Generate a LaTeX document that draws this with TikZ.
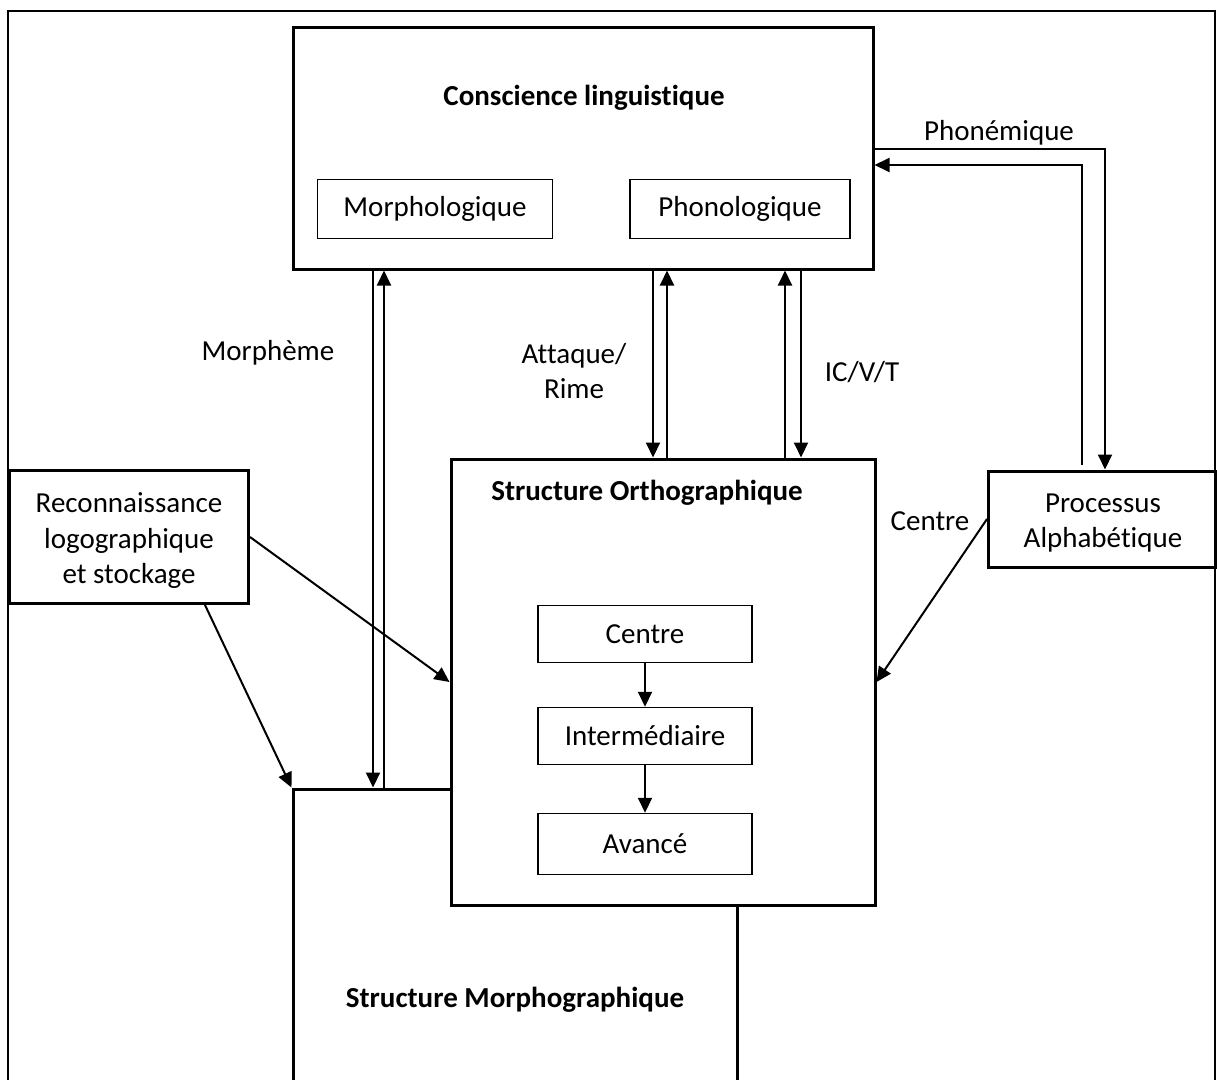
\documentclass[tikz,border=0pt]{standalone}
\usepackage{fontspec}
\setmainfont[Ligatures=NoCommon]{Carlito}
\usetikzlibrary{positioning, arrows.meta}
\tikzset{
  bigbox/.style={draw, line width=3pt, fill=white},
  smallbox/.style={draw, line width=1.5pt, fill=white, minimum width=214pt, minimum height=57pt, inner sep=0pt, font=\fontsize{29}{35.5}\selectfont},
  arr/.style={line width=2pt, -{Triangle[length=15pt,width=14pt]}},
  lbl/.style={inner sep=0pt, align=center, font=\fontsize{29}{35.5}\selectfont},
  titre/.style={inner sep=0pt, align=center, font=\fontsize{29}{35.5}\selectfont\bfseries}
}

\begin{document}
\begin{tikzpicture}[x=1pt, y=-1pt]
	\useasboundingbox (0,0) rectangle (1217,1079);
	\clip (0,0) rectangle (1217,1079);
	\fill[white] (0,0) rectangle (1217,1079);
	% cadre
	\draw[line width=1.5pt] (8,1100) -- (8,11) -- (1215,11) -- (1215,1100);

	% grandes boites
	\node[bigbox, minimum width=444pt, minimum height=400pt] (morpho) at (515,989) {};
	\node[bigbox, minimum width=580pt, minimum height=242pt] (consc) at (583,148) {};
	\node[bigbox, minimum width=424pt, minimum height=446pt] (ortho) at (663,682) {};
	\node[bigbox, minimum width=239pt, minimum height=133pt] (reco) at (129,537) {};
	\node[bigbox, minimum width=227pt, minimum height=96pt] (proc) at (1102,519) {};

	% titres
	\node[titre] (tconsc) at (584,98) {Conscience linguistique};
	\node[titre] (tortho) at (647,493) {Structure Orthographique};
	\node[titre] (tmorpho) at (515,1000) {Structure Morphographique};
	\node[lbl] (treco) at (129,541) {Reconnaissance\\logographique\\et stockage};
	\node[lbl] (tproc) at (1103,523) {Processus\\Alphabétique};

	% petites boites
	\node[smallbox, minimum width=235pt, minimum height=59pt] (morphol) at (435,209) {Morphologique};
	\node[smallbox, minimum width=220pt, minimum height=59pt] (phonol) at (740,209) {Phonologique};
	\node[smallbox] (centre) at (645,634) {Centre};
	\node[smallbox] (inter) at (645,736) {Intermédiaire};
	\node[smallbox, minimum height=61pt] (avance) at (645,844) {Avancé};
	\draw[arr] (centre) -- (inter);
	\draw[arr] (inter) -- (avance);

	% fleches doubles
	\coordinate (mA) at (373,0);
	\coordinate (mB) at (384,0);
	\coordinate (aA) at (653,0);
	\coordinate (aB) at (667,0);
	\coordinate (iA) at (785,0);
	\coordinate (iB) at (801,0);
	\draw[arr] (consc.south -| mA) -- (morpho.north -| mA);
	\draw[arr] (morpho.north -| mB) -- (consc.south -| mB);
	\draw[arr] (consc.south -| aA) -- (ortho.north -| aA);
	\draw[arr] (ortho.north -| aB) -- (consc.south -| aB);
	\draw[arr] (ortho.north -| iA) -- (consc.south -| iA);
	\draw[arr] (consc.south -| iB) -- (ortho.north -| iB);

	% phonemique
	\coordinate (phA) at (1105,149);
	\coordinate (phB) at (1082,165);
	\draw[arr] (consc.east |- phA) -- (phA) -- (proc.north -| phA);
	\draw[arr] ([yshift=5pt]proc.north -| phB) -- (phB) -- (consc.east |- phB);

	% reconnaissance et processus
	\coordinate (rB) at (205,0);
	\draw[arr] (reco.east) -- (ortho.west);
	\draw[arr] (reco.south -| rB) -- (morpho.north west);
	\draw[arr] (proc.west) -- (ortho.east);

	% etiquettes
	\node[lbl] (lphon) at (999,133) {Phonémique};
	\node[lbl] (lmorph) at (268,353) {Morphème};
	\node[lbl] (latt) at (574,371) {Attaque/\\Rime};
	\node[lbl] (licv) at (862,372) {IC/V/T};
	\node[lbl] (lcentre) at (930,521) {Centre};
\end{tikzpicture}
\end{document}
